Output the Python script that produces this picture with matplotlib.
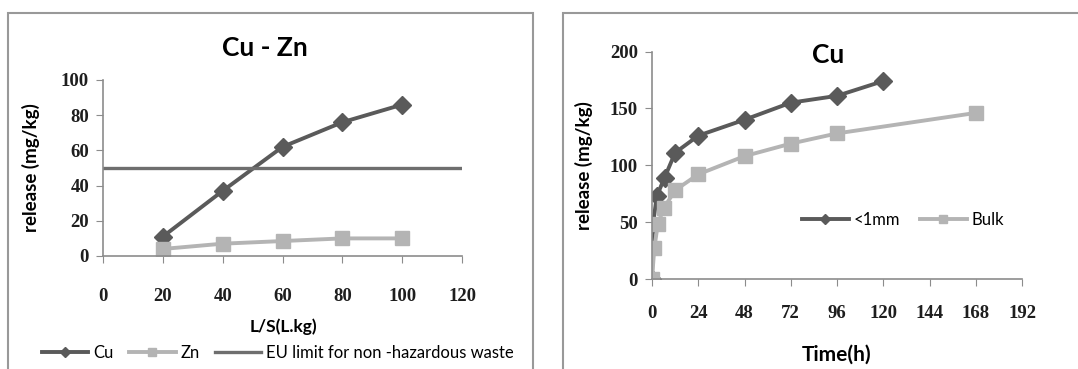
import matplotlib.pyplot as plt
from matplotlib.patches import Rectangle

# left panel: Cu - Zn release vs L/S
ls_ratio = [20, 40, 60, 80, 100]
cu_release = [11, 37, 62, 76, 86]
zn_release = [4, 7, 8.5, 10, 10]
eu_limit = 50

# right panel: Cu release vs time
time_fine = [0, 0.5, 2.5, 6.5, 12, 24, 48, 72, 96, 120]
cu_fine = [0, 48, 73, 89, 111, 126, 140, 155, 161, 174]
time_bulk = [0, 1.2, 3, 6, 12, 24, 48, 72, 96, 168]
cu_bulk = [0, 27, 48, 62, 78, 92, 108, 119, 128, 146]

DARK = "#5a5a5a"
LIGHT = "#b4b4b4"
AXIS = "#8c8c8c"
TEXT_FONT = ["Lato", "DejaVu Sans"]
TICK_FONT = ["Liberation Serif", "DejaVu Serif"]

W, H = 1078, 369
fig = plt.figure(figsize=(W / 100, H / 100), dpi=100)


def px_rect(x0, y0, x1, y1):
    return [x0 / W, 1 - y1 / H, (x1 - x0) / W, (y1 - y0) / H]


# chart frames
for x0, x1 in ((8, 533), (563, 1090)):
    fig.patches.append(Rectangle((x0 / W, -0.05), (x1 - x0) / W, 1 - 13 / H + 0.05,
                                 transform=fig.transFigure, fill=False,
                                 edgecolor="#999999", linewidth=1.5))


def style_axes(ax, pad):
    for side in ("top", "right"):
        ax.spines[side].set_visible(False)
    for side in ("left", "bottom"):
        ax.spines[side].set_color(AXIS)
        ax.spines[side].set_linewidth(1.2)
    ax.tick_params(axis="x", direction="out", length=5, color=AXIS, pad=pad)
    ax.tick_params(axis="y", direction="out", length=5, color=AXIS, pad=5)
    for lab in ax.get_xticklabels() + ax.get_yticklabels():
        lab.set_family(TICK_FONT)
        lab.set_fontweight("bold")
        lab.set_fontsize(13.5)
        lab.set_color("#1e1e1e")


ax1 = fig.add_axes(px_rect(103, 80, 462, 256))
ax1.plot(ls_ratio, cu_release, color=DARK, linewidth=2.8, marker="D", markersize=9, label="Cu")
ax1.plot(ls_ratio, zn_release, color=LIGHT, linewidth=2.8, marker="s", markersize=10, label="Zn")
ax1.axhline(eu_limit, color="#6e6e6e", linewidth=2.4, label="EU limit for non -hazardous waste")
ax1.set_xlim(0, 120)
ax1.set_ylim(0, 100)
ax1.set_xticks(range(0, 121, 20))
ax1.set_yticks(range(0, 101, 20))
style_axes(ax1, pad=18)
ax1.set_title("Cu - Zn", family=TEXT_FONT, fontweight="bold", fontsize=19, pad=0,
              x=0.451, y=(256 - 48) / 176, va="center")
ax1.set_ylabel("release (mg/kg)", family=TEXT_FONT, fontweight="bold", fontsize=13.5, labelpad=15)
fig.text(283 / W, 1 - 327 / H, "L/S(L.kg)", family=TEXT_FONT, fontweight="bold",
         fontsize=12.5, ha="center", va="center")
h, l = ax1.get_legend_handles_labels()
fig.legend(h, l, loc="center", bbox_to_anchor=(278 / W, 1 - 353 / H), ncol=3,
           frameon=False, handlelength=2.8, handletextpad=0.3, columnspacing=0.9,
           markerscale=0.6, prop={"family": TEXT_FONT, "size": 12})

ax2 = fig.add_axes(px_rect(652, 51.5, 1022, 279))
ax2.plot(time_fine, cu_fine, color=DARK, linewidth=2.8, marker="D", markersize=9, label="<1mm")
ax2.plot(time_bulk, cu_bulk, color=LIGHT, linewidth=2.8, marker="s", markersize=10, label="Bulk")
ax2.set_xlim(0, 192)
ax2.set_ylim(0, 200)
ax2.set_xticks(range(0, 193, 24))
ax2.set_yticks(range(0, 201, 50))
style_axes(ax2, pad=14)
ax2.set_title("Cu", family=TEXT_FONT, fontweight="bold", fontsize=19, pad=0,
              x=0.476, y=(279 - 55) / 227.5, va="center")
ax2.set_ylabel("release (mg/kg)", family=TEXT_FONT, fontweight="bold", fontsize=13.5, labelpad=12)
ax2.set_xlabel("Time(h)", family=TEXT_FONT, fontweight="bold", fontsize=15, labelpad=16)
ax2.legend(loc="center", bbox_to_anchor=((903 - 652) / 370, (279 - 220) / 227.5), ncol=2,
           frameon=False, handlelength=2.8, handletextpad=0.3, columnspacing=1.2,
           markerscale=0.6, prop={"family": TEXT_FONT, "size": 12})

fig.savefig("out.png", dpi=100)
